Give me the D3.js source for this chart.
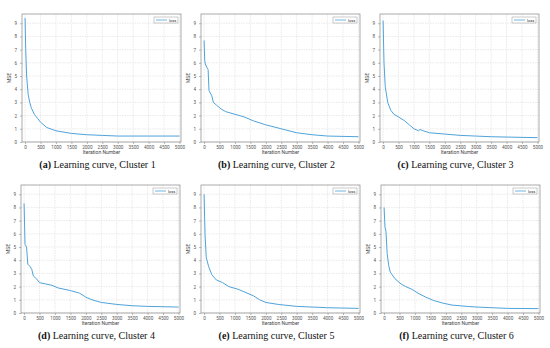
<html>
<head>
<script src="https://d3js.org/d3.v7.min.js"></script>
<style>
  body { margin: 0; background: #fff; }
  .caption { font-family: "Liberation Serif", serif; font-size: 10px; fill: #111; }
</style>
</head>
<body>
<script>
// data: iteration number and MSE for each cluster
var iter1 = [0, 20, 50, 100, 150, 200, 300, 400, 500, 700, 1000, 1500, 2000, 2500, 3000, 4000, 5000];
var mse1  = [9.4, 7.0, 5.0, 3.6, 3.0, 2.6, 2.1, 1.8, 1.5, 1.1, 0.85, 0.65, 0.55, 0.5, 0.45, 0.45, 0.45];

var iter2 = [0, 20, 40, 100, 130, 160, 250, 300, 400, 550, 700, 1000, 1300, 1600, 2000, 2500, 3000, 3500, 4000, 5000];
var mse2  = [7.7, 6.2, 5.9, 5.6, 5.5, 3.9, 3.5, 3.0, 2.8, 2.5, 2.3, 2.1, 1.9, 1.6, 1.3, 1.0, 0.7, 0.55, 0.45, 0.4];

var iter3 = [0, 30, 70, 150, 250, 350, 500, 700, 850, 1000, 1150, 1200, 1300, 1500, 2000, 2500, 3000, 3500, 4500, 5000];
var mse3  = [9.2, 6.0, 4.2, 3.0, 2.4, 2.1, 1.9, 1.6, 1.3, 1.0, 0.85, 0.95, 0.85, 0.7, 0.6, 0.5, 0.45, 0.4, 0.35, 0.33];

var iter4 = [0, 30, 80, 120, 200, 250, 300, 400, 500, 700, 900, 1100, 1500, 1800, 2000, 2200, 2500, 3000, 3500, 4000, 5000];
var mse4  = [8.3, 5.2, 5.0, 3.7, 3.5, 3.3, 2.8, 2.6, 2.3, 2.2, 2.1, 1.9, 1.7, 1.5, 1.2, 1.0, 0.8, 0.65, 0.55, 0.5, 0.45];

var iter5 = [0, 30, 70, 150, 250, 400, 600, 800, 1100, 1300, 1600, 1800, 2000, 2400, 3000, 3500, 4000, 5000];
var mse5  = [9.0, 6.0, 4.2, 3.5, 2.9, 2.5, 2.3, 2.0, 1.8, 1.6, 1.3, 1.0, 0.8, 0.65, 0.5, 0.45, 0.4, 0.35];

var iter6 = [0, 30, 60, 100, 150, 200, 350, 550, 700, 900, 1100, 1350, 1600, 1900, 2200, 2700, 3000, 3500, 4000, 5000];
var mse6  = [8.0, 6.5, 6.2, 4.5, 3.6, 3.1, 2.6, 2.2, 2.0, 1.8, 1.5, 1.2, 0.95, 0.75, 0.6, 0.5, 0.45, 0.4, 0.35, 0.33];

var letters = ["a", "b", "c", "d", "e", "f"];
var captions = ["Learning curve, Cluster 1", "Learning curve, Cluster 2", "Learning curve, Cluster 3",
                "Learning curve, Cluster 4", "Learning curve, Cluster 5", "Learning curve, Cluster 6"];
var xTicks = [0, 500, 1000, 1500, 2000, 2500, 3000, 3500, 4000, 4500, 5000];
var yTicks = [0, 1, 2, 3, 4, 5, 6, 7, 8, 9];

var series = [[iter1, mse1], [iter2, mse2], [iter3, mse3], [iter4, mse4], [iter5, mse5], [iter6, mse6]];

// plot boxes (left, top) for each panel
var boxes = [[22, 14], [201, 14], [380, 14], [21, 185], [201, 185], [381, 185]];
var pw = 159, ph = 128;

var svg = d3.select("body").append("svg").attr("width", 550).attr("height", 348);

series.forEach(function(s, i) {
    var g = svg.append("g").attr("transform", "translate(" + boxes[i][0] + "," + boxes[i][1] + ")");
    var x = d3.scaleLinear().domain([-100, 5050]).range([0, pw]);
    var y = d3.scaleLinear().domain([0, 9.7]).range([ph, 0]);

    g.append("rect").attr("width", pw).attr("height", ph).attr("fill", "#fff");

    // grid
    g.selectAll(".gx").data(xTicks).enter().append("line")
        .attr("x1", d => x(d)).attr("x2", d => x(d)).attr("y1", 0).attr("y2", ph)
        .attr("stroke", "#dcdcdc").attr("stroke-width", 0.6).attr("stroke-dasharray", "1.5,1");
    g.selectAll(".gy").data(yTicks).enter().append("line")
        .attr("y1", d => y(d)).attr("y2", d => y(d)).attr("x1", 0).attr("x2", pw)
        .attr("stroke", "#dcdcdc").attr("stroke-width", 0.6).attr("stroke-dasharray", "1.5,1");

    var xa = g.append("g").attr("transform", "translate(0," + ph + ")")
        .call(d3.axisBottom(x).tickValues(xTicks).tickFormat(d3.format("d")).tickSize(2).tickPadding(1.5));
    var ya = g.append("g")
        .call(d3.axisLeft(y).tickValues(yTicks).tickSize(2).tickPadding(3));
    [xa, ya].forEach(function(a) {
        a.selectAll("text").style("font-family", "Roboto, sans-serif").style("font-size", "4.6px").attr("fill", "#555");
        a.selectAll("line").attr("stroke", "#777").attr("stroke-width", 0.5);
        a.select(".domain").remove();
    });

    g.append("rect").attr("width", pw).attr("height", ph)
        .attr("fill", "none").attr("stroke", "#888").attr("stroke-width", 0.7);

    var pts = s[0].map(function(d, k) { return [d, s[1][k]]; });
    g.append("path").datum(pts)
        .attr("fill", "none").attr("stroke", "#4fa3da").attr("stroke-width", 1)
        .attr("d", d3.line().x(d => x(d[0])).y(d => y(d[1])));

    // legend
    var lg = g.append("g").attr("transform", "translate(" + (pw - 27) + ",3)");
    lg.append("rect").attr("width", 24).attr("height", 6).attr("fill", "#fff")
        .attr("stroke", "#999").attr("stroke-width", 0.5);
    lg.append("line").attr("x1", 2).attr("x2", 13).attr("y1", 3).attr("y2", 3)
        .attr("stroke", "#4fa3da").attr("stroke-width", 0.8);
    lg.append("text").attr("x", 15).attr("y", 4.5).text("loss")
        .style("font-family", "Roboto, sans-serif").style("font-size", "4px").attr("fill", "#333");

    g.append("text").attr("x", pw / 2).attr("y", ph + 12).attr("text-anchor", "middle")
        .text("Iteration Number").style("font-family", "Roboto, sans-serif").style("font-size", "5px").attr("fill", "#444");
    g.append("text").attr("transform", "translate(-11," + (ph / 2) + ") rotate(-90)")
        .attr("text-anchor", "middle").text("MSE")
        .style("font-family", "Roboto, sans-serif").style("font-size", "5px").attr("fill", "#444");

    var cap = svg.append("text").attr("class", "caption")
        .attr("x", boxes[i][0] + pw / 2 - 4).attr("y", boxes[i][1] + ph + 26)
        .attr("text-anchor", "middle");
    cap.append("tspan").attr("font-weight", "bold").text("(" + letters[i] + ")");
    cap.append("tspan").text(" " + captions[i]);
});
</script>
</body>
</html>
